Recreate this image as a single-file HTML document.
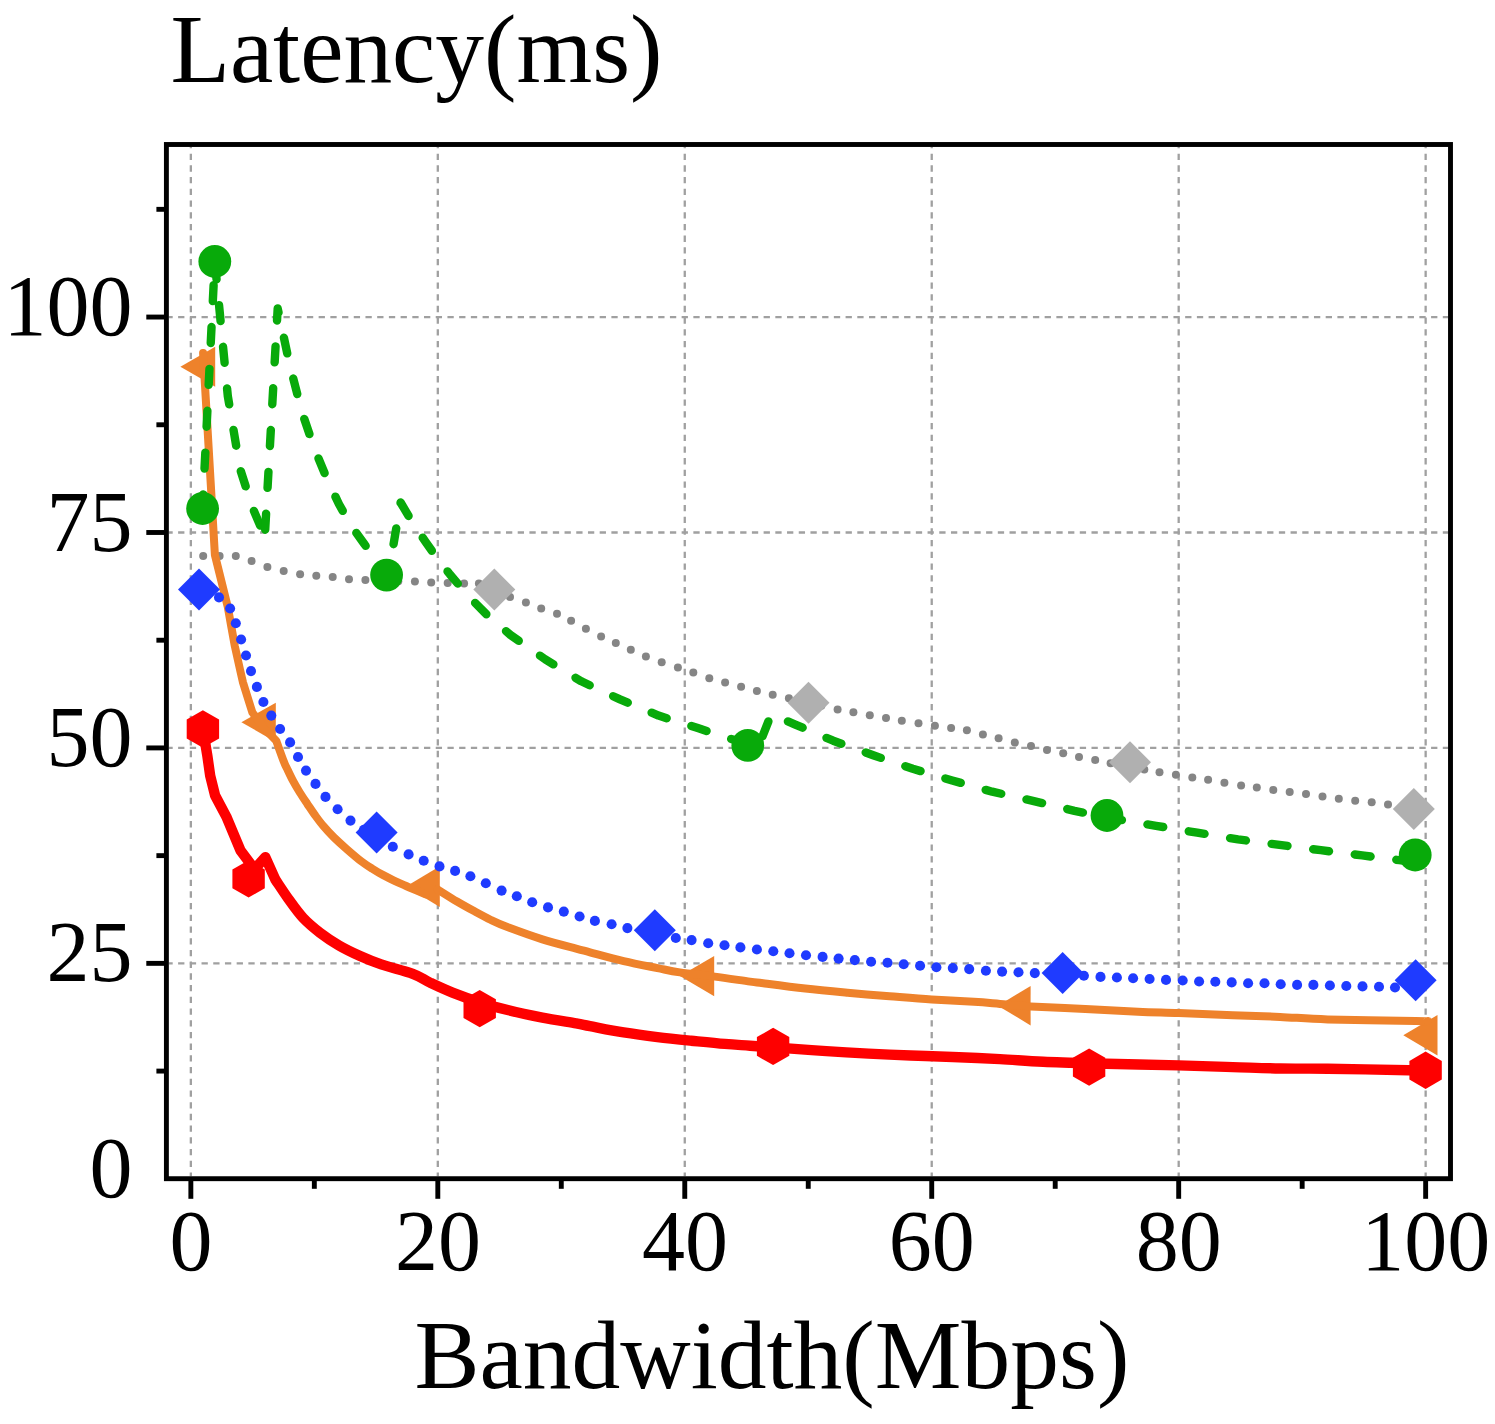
<!DOCTYPE html>
<html><head><meta charset="utf-8"><title>Latency vs Bandwidth</title>
<style>html,body{margin:0;padding:0;background:#fff;}svg{display:block;}text{font-family:"Liberation Serif",serif;fill:#000;}</style>
</head><body>
<svg width="1495" height="1424" viewBox="0 0 1495 1424">
<rect x="0" y="0" width="1495" height="1424" fill="#fff"/>
<g stroke="#a0a0a0" stroke-width="2.3" fill="none" stroke-dasharray="6.3 5.41">
<line x1="190.85" y1="1176.30" x2="190.85" y2="146.90" stroke-dashoffset="2.4"/>
<line x1="437.81" y1="1176.30" x2="437.81" y2="146.90" stroke-dashoffset="2.4"/>
<line x1="684.77" y1="1176.30" x2="684.77" y2="146.90" stroke-dashoffset="2.4"/>
<line x1="931.73" y1="1176.30" x2="931.73" y2="146.90" stroke-dashoffset="2.4"/>
<line x1="1178.69" y1="1176.30" x2="1178.69" y2="146.90" stroke-dashoffset="2.4"/>
<line x1="1425.65" y1="1176.30" x2="1425.65" y2="146.90" stroke-dashoffset="2.4"/>
<line x1="168.80" y1="963.36" x2="1448.10" y2="963.36" stroke-dashoffset="2.4"/>
<line x1="168.80" y1="747.92" x2="1448.10" y2="747.92" stroke-dashoffset="2.4"/>
<line x1="168.80" y1="532.49" x2="1448.10" y2="532.49" stroke-dashoffset="2.4"/>
<line x1="168.80" y1="317.05" x2="1448.10" y2="317.05" stroke-dashoffset="2.4"/>
</g>
<g id="gray">
<g fill="#858585">
<circle cx="203.2" cy="555.9" r="4.00"/>
<circle cx="219.6" cy="555.9" r="4.00"/>
<circle cx="235.8" cy="555.9" r="4.00"/>
<circle cx="251.6" cy="561.1" r="4.00"/>
<circle cx="267.4" cy="567.0" r="4.00"/>
<circle cx="283.7" cy="571.0" r="4.00"/>
<circle cx="300.1" cy="574.2" r="4.00"/>
<circle cx="316.3" cy="575.7" r="4.00"/>
<circle cx="332.7" cy="577.1" r="4.00"/>
<circle cx="349.0" cy="579.2" r="4.00"/>
<circle cx="365.4" cy="580.1" r="4.00"/>
<circle cx="381.8" cy="580.7" r="4.00"/>
<circle cx="398.3" cy="581.2" r="4.00"/>
<circle cx="414.9" cy="581.6" r="4.00"/>
<circle cx="431.2" cy="582.4" r="4.00"/>
<circle cx="447.7" cy="582.9" r="4.00"/>
<circle cx="464.1" cy="583.4" r="4.00"/>
<circle cx="478.9" cy="583.6" r="4.00"/>
<circle cx="494.5" cy="589.5" r="4.00"/>
<circle cx="510.0" cy="596.9" r="4.00"/>
<circle cx="525.9" cy="602.6" r="4.00"/>
<circle cx="541.2" cy="608.5" r="4.00"/>
<circle cx="557.0" cy="613.8" r="4.00"/>
<circle cx="571.1" cy="620.7" r="4.00"/>
<circle cx="585.9" cy="628.7" r="4.00"/>
<circle cx="601.1" cy="636.5" r="4.00"/>
<circle cx="615.8" cy="643.1" r="4.00"/>
<circle cx="630.8" cy="649.8" r="4.00"/>
<circle cx="645.9" cy="656.5" r="4.00"/>
<circle cx="661.7" cy="662.2" r="4.00"/>
<circle cx="677.9" cy="667.5" r="4.00"/>
<circle cx="693.3" cy="672.5" r="4.00"/>
<circle cx="709.3" cy="678.2" r="4.00"/>
<circle cx="725.1" cy="682.6" r="4.00"/>
<circle cx="741.1" cy="686.8" r="4.00"/>
<circle cx="756.9" cy="691.0" r="4.00"/>
<circle cx="772.7" cy="694.8" r="4.00"/>
<circle cx="788.9" cy="698.2" r="4.00"/>
<circle cx="805.1" cy="701.8" r="4.00"/>
<circle cx="821.3" cy="705.8" r="4.00"/>
<circle cx="837.6" cy="709.5" r="4.00"/>
<circle cx="853.4" cy="712.3" r="4.00"/>
<circle cx="869.8" cy="715.2" r="4.00"/>
<circle cx="886.0" cy="718.0" r="4.00"/>
<circle cx="901.8" cy="720.7" r="4.00"/>
<circle cx="918.5" cy="723.2" r="4.00"/>
<circle cx="934.9" cy="725.8" r="4.00"/>
<circle cx="951.1" cy="727.9" r="4.00"/>
<circle cx="966.9" cy="730.2" r="4.00"/>
<circle cx="982.9" cy="734.6" r="4.00"/>
<circle cx="998.6" cy="738.3" r="4.00"/>
<circle cx="1014.8" cy="742.6" r="4.00"/>
<circle cx="1031.0" cy="746.0" r="4.00"/>
<circle cx="1047.0" cy="750.0" r="4.00"/>
<circle cx="1063.2" cy="753.3" r="4.00"/>
<circle cx="1079.0" cy="756.9" r="4.00"/>
<circle cx="1095.2" cy="760.1" r="4.00"/>
<circle cx="1110.6" cy="763.2" r="4.00"/>
<circle cx="1127.4" cy="766.4" r="4.00"/>
<circle cx="1144.3" cy="769.6" r="4.00"/>
<circle cx="1159.5" cy="772.3" r="4.00"/>
<circle cx="1175.9" cy="774.8" r="4.00"/>
<circle cx="1192.3" cy="777.6" r="4.00"/>
<circle cx="1208.1" cy="779.7" r="4.00"/>
<circle cx="1224.4" cy="782.8" r="4.00"/>
<circle cx="1241.1" cy="785.4" r="4.00"/>
<circle cx="1256.8" cy="787.5" r="4.00"/>
<circle cx="1273.3" cy="789.9" r="4.00"/>
<circle cx="1289.7" cy="792.1" r="4.00"/>
<circle cx="1306.0" cy="794.1" r="4.00"/>
<circle cx="1322.5" cy="796.5" r="4.00"/>
<circle cx="1338.8" cy="798.8" r="4.00"/>
<circle cx="1355.2" cy="800.7" r="4.00"/>
<circle cx="1371.7" cy="802.3" r="4.00"/>
<circle cx="1388.0" cy="804.6" r="4.00"/>
<circle cx="1404.3" cy="807.0" r="4.00"/>
</g>
<polygon points="494.3,568.5 515.3,589.5 494.3,610.5 473.3,589.5" fill="#b0b0b0"/>
<polygon points="808.5,681.8 829.5,702.8 808.5,723.8 787.5,702.8" fill="#b0b0b0"/>
<polygon points="1130.0,741.2 1151.0,762.2 1130.0,783.2 1109.0,762.2" fill="#b0b0b0"/>
<polygon points="1413.8,788.0 1434.8,809.0 1413.8,830.0 1392.8,809.0" fill="#b0b0b0"/>
</g>
<g id="orange">
<polygon points="180.4,366.8 215.2,346.8 215.2,386.8" fill="#ee822b"/>
<polygon points="241.4,722.3 275.8,702.7 275.8,741.9" fill="#ee822b"/>
<polygon points="406.0,886.6 439.8,866.3 439.8,906.9" fill="#ee822b"/>
<polygon points="679.9,976.1 714.2,955.9 714.2,996.3" fill="#ee822b"/>
<polygon points="997.9,1005.7 1030.6,986.0 1030.6,1025.4" fill="#ee822b"/>
<polygon points="1403.3,1035.2 1437.5,1015.0 1437.5,1055.4" fill="#ee822b"/>
<path d="M203.1,353.0L214.9,555.0L227.8,607.0L231.5,627.8L234.8,646.0L240.0,669.5L243.0,682.5L248.6,700.5L252.3,712.3L264.8,729.0L276.2,740.7C277.5,744.2 282.0,756.9 283.9,761.8C285.8,766.7 286.1,766.8 287.7,770.0C289.2,773.2 291.2,777.5 293.2,781.2C295.2,785.0 297.5,788.8 299.8,792.5C302.1,796.2 304.7,800.0 307.2,803.7C309.7,807.4 312.1,811.1 314.8,814.9C317.5,818.6 320.3,822.5 323.5,826.2C326.7,830.0 330.1,833.6 333.9,837.4C337.7,841.1 341.7,844.7 346.3,848.7C350.9,852.7 357.1,858.1 361.4,861.4C365.7,864.7 368.5,866.4 372.1,868.6C375.7,870.9 379.2,873.0 382.8,874.9C386.4,876.8 389.9,878.6 393.5,880.3C397.1,882.0 401.4,883.9 404.2,885.1C407.0,886.4 406.6,886.2 410.1,887.8C413.7,889.3 422.9,893.3 425.5,894.4" fill="none" stroke="#ee822b" stroke-width="8.0" stroke-linejoin="round" stroke-linecap="round"/>
<path d="M437.8,889.5C438.1,889.7 436.6,888.8 439.8,890.8C443.0,892.8 451.1,898.0 457.0,901.5C462.9,905.0 469.3,908.5 475.0,911.6C480.7,914.7 485.4,917.3 491.0,920.0C496.6,922.7 500.1,924.4 508.7,927.6C517.3,930.8 531.2,935.9 542.4,939.4C553.6,942.9 568.2,946.5 576.1,948.6C584.0,950.8 582.1,950.2 590.0,952.3C597.9,954.4 612.5,958.5 623.7,961.1C634.9,963.7 648.0,966.2 657.4,968.1C666.8,970.0 670.3,971.0 679.9,972.4C689.5,973.8 703.0,975.1 714.7,976.6C726.4,978.1 741.9,980.5 750.0,981.6C758.1,982.7 754.0,982.1 763.2,983.2C772.4,984.4 791.2,986.9 805.3,988.5C819.3,990.1 833.5,991.4 847.5,992.7C861.5,994.0 875.6,995.2 889.6,996.3C903.6,997.4 917.7,998.6 931.7,999.5C945.8,1000.4 962.5,1001.1 973.9,1001.8C985.3,1002.5 990.5,1003.1 1000.0,1003.9C1009.5,1004.7 1016.4,1005.6 1030.6,1006.4C1044.8,1007.2 1067.4,1008.0 1085.3,1008.9C1103.2,1009.8 1122.4,1011.0 1138.0,1011.7C1153.6,1012.4 1162.9,1012.5 1178.7,1013.1C1194.5,1013.7 1215.9,1014.6 1232.8,1015.2C1249.7,1015.8 1264.2,1016.2 1280.0,1016.9C1295.8,1017.6 1305.2,1018.7 1327.8,1019.4C1350.4,1020.1 1398.9,1020.8 1415.6,1021.1C1432.3,1021.4 1425.9,1021.1 1427.9,1021.1" fill="none" stroke="#ee822b" stroke-width="8.0" stroke-linejoin="round" stroke-linecap="round"/>
</g>
<g id="green">
<polyline points="202.6,507.5 214.8,261.0" fill="none" stroke="#08aa0a" stroke-width="8.4" stroke-linejoin="round" stroke-linecap="round" stroke-dasharray="16.0 25.90" stroke-dashoffset="2.92"/>
<polyline points="214.8,261.0 227.8,396.0 240.1,469.0 252.4,507.4 264.8,536.5" fill="none" stroke="#08aa0a" stroke-width="8.4" stroke-linejoin="round" stroke-linecap="round" stroke-dasharray="16.0 25.90" stroke-dashoffset="39.49"/>
<polyline points="264.8,536.5 277.7,308.5 289.5,364.0 301.9,412.0 314.2,448.0 326.6,478.0 338.9,504.0 351.2,525.8 363.6,543.0 375.9,560.0 388.3,575.4" fill="none" stroke="#08aa0a" stroke-width="8.4" stroke-linejoin="round" stroke-linecap="round" stroke-dasharray="16.0 25.90" stroke-dashoffset="35.08"/>
<polyline points="388.3,575.4 400.6,502.5 413.0,523.5 425.4,541.6 437.7,559.0 450.0,574.5 462.4,589.0 474.8,602.6 487.1,615.0 510.5,635.0 545.3,659.4 581.3,681.3 620.0,699.4 658.5,715.6 697.8,728.0 730.0,738.7 746.5,743.3 758.9,745.6" fill="none" stroke="#08aa0a" stroke-width="8.4" stroke-linejoin="round" stroke-linecap="round" stroke-dasharray="16.0 25.90" stroke-dashoffset="10.23"/>
<polyline points="758.9,745.6 771.2,714.2 795.3,724.6 833.2,740.7 873.2,755.3 912.8,768.8 952.2,780.5 992.2,791.7 1033.9,801.1 1074.5,810.8 1107.0,817.5" fill="none" stroke="#08aa0a" stroke-width="8.4" stroke-linejoin="round" stroke-linecap="round" stroke-dasharray="16.0 25.90" stroke-dashoffset="31.85"/>
<polyline points="1107.0,817.5 1156.1,825.8 1197.2,832.7 1238.0,839.4 1279.5,844.9 1320.8,850.2 1362.2,855.4 1399.3,860.2 1415.0,862.3" fill="none" stroke="#08aa0a" stroke-width="8.4" stroke-linejoin="round" stroke-linecap="round" stroke-dasharray="16.0 25.90" stroke-dashoffset="0.88"/>
</g>
<g id="greenmarks">
<circle cx="214.8" cy="261.5" r="16.4" fill="#08aa0a"/>
<circle cx="202.6" cy="508.5" r="16.4" fill="#08aa0a"/>
<circle cx="386.6" cy="575.1" r="16.4" fill="#08aa0a"/>
<circle cx="747.8" cy="745.4" r="16.4" fill="#08aa0a"/>
<circle cx="1107.0" cy="815.5" r="16.4" fill="#08aa0a"/>
<circle cx="1415.2" cy="855.0" r="16.4" fill="#08aa0a"/>
</g>
<g id="blue">
<g fill="#1f3bff">
<circle cx="204.5" cy="591.5" r="5.05"/>
<circle cx="219.0" cy="597.4" r="5.05"/>
<circle cx="230.1" cy="608.5" r="5.05"/>
<circle cx="235.8" cy="623.3" r="5.05"/>
<circle cx="241.1" cy="639.5" r="5.05"/>
<circle cx="246.0" cy="655.5" r="5.05"/>
<circle cx="251.0" cy="671.1" r="5.05"/>
<circle cx="256.9" cy="686.9" r="5.05"/>
<circle cx="263.4" cy="702.0" r="5.05"/>
<circle cx="271.3" cy="715.6" r="5.05"/>
<circle cx="280.1" cy="729.0" r="5.05"/>
<circle cx="290.1" cy="742.4" r="5.05"/>
<circle cx="298.0" cy="757.0" r="5.05"/>
<circle cx="306.0" cy="770.6" r="5.05"/>
<circle cx="315.5" cy="783.9" r="5.05"/>
<circle cx="325.5" cy="796.9" r="5.05"/>
<circle cx="337.6" cy="809.2" r="5.05"/>
<circle cx="350.5" cy="820.6" r="5.05"/>
<circle cx="363.9" cy="829.9" r="5.05"/>
<circle cx="379.0" cy="839.5" r="5.05"/>
<circle cx="392.8" cy="846.8" r="5.05"/>
<circle cx="408.6" cy="854.4" r="5.05"/>
<circle cx="423.7" cy="860.7" r="5.05"/>
<circle cx="439.5" cy="866.4" r="5.05"/>
<circle cx="455.1" cy="870.9" r="5.05"/>
<circle cx="470.4" cy="876.3" r="5.05"/>
<circle cx="485.8" cy="883.2" r="5.05"/>
<circle cx="501.6" cy="890.6" r="5.05"/>
<circle cx="516.8" cy="896.3" r="5.05"/>
<circle cx="532.2" cy="902.2" r="5.05"/>
<circle cx="548.0" cy="907.4" r="5.05"/>
<circle cx="563.8" cy="911.6" r="5.05"/>
<circle cx="579.6" cy="916.5" r="5.05"/>
<circle cx="594.9" cy="920.9" r="5.05"/>
<circle cx="611.6" cy="924.3" r="5.05"/>
<circle cx="627.4" cy="928.1" r="5.05"/>
<circle cx="643.5" cy="931.4" r="5.05"/>
<circle cx="659.7" cy="934.7" r="5.05"/>
<circle cx="675.8" cy="938.0" r="5.05"/>
<circle cx="691.6" cy="940.1" r="5.05"/>
<circle cx="708.2" cy="943.2" r="5.05"/>
<circle cx="724.5" cy="945.3" r="5.05"/>
<circle cx="740.4" cy="947.4" r="5.05"/>
<circle cx="756.9" cy="949.5" r="5.05"/>
<circle cx="773.3" cy="951.2" r="5.05"/>
<circle cx="789.5" cy="953.3" r="5.05"/>
<circle cx="806.0" cy="955.2" r="5.05"/>
<circle cx="822.6" cy="956.9" r="5.05"/>
<circle cx="838.6" cy="958.6" r="5.05"/>
<circle cx="854.8" cy="960.1" r="5.05"/>
<circle cx="871.1" cy="961.8" r="5.05"/>
<circle cx="887.5" cy="962.8" r="5.05"/>
<circle cx="903.7" cy="964.3" r="5.05"/>
<circle cx="920.1" cy="965.8" r="5.05"/>
<circle cx="936.4" cy="967.2" r="5.05"/>
<circle cx="952.8" cy="968.1" r="5.05"/>
<circle cx="969.2" cy="969.1" r="5.05"/>
<circle cx="985.9" cy="970.8" r="5.05"/>
<circle cx="1002.1" cy="971.6" r="5.05"/>
<circle cx="1018.5" cy="972.3" r="5.05"/>
<circle cx="1034.8" cy="973.1" r="5.05"/>
<circle cx="1051.2" cy="974.0" r="5.05"/>
<circle cx="1067.5" cy="975.0" r="5.05"/>
<circle cx="1083.9" cy="975.8" r="5.05"/>
<circle cx="1100.5" cy="976.9" r="5.05"/>
<circle cx="1116.9" cy="977.5" r="5.05"/>
<circle cx="1133.1" cy="978.2" r="5.05"/>
<circle cx="1149.6" cy="979.0" r="5.05"/>
<circle cx="1166.0" cy="979.9" r="5.05"/>
<circle cx="1182.7" cy="980.5" r="5.05"/>
<circle cx="1199.1" cy="981.5" r="5.05"/>
<circle cx="1215.3" cy="981.7" r="5.05"/>
<circle cx="1231.7" cy="982.4" r="5.05"/>
<circle cx="1248.1" cy="983.3" r="5.05"/>
<circle cx="1264.5" cy="983.3" r="5.05"/>
<circle cx="1280.7" cy="984.2" r="5.05"/>
<circle cx="1297.1" cy="984.9" r="5.05"/>
<circle cx="1313.4" cy="984.9" r="5.05"/>
<circle cx="1329.9" cy="985.5" r="5.05"/>
<circle cx="1346.3" cy="986.0" r="5.05"/>
<circle cx="1362.5" cy="986.4" r="5.05"/>
<circle cx="1379.0" cy="986.8" r="5.05"/>
<circle cx="1395.0" cy="987.5" r="5.05"/>
</g>
<polygon points="199.0,568.6 220.0,589.6 199.0,610.6 178.0,589.6" fill="#1f3bff"/>
<polygon points="376.6,811.5 397.6,832.5 376.6,853.5 355.6,832.5" fill="#1f3bff"/>
<polygon points="654.8,909.2 675.8,930.2 654.8,951.2 633.8,930.2" fill="#1f3bff"/>
<polygon points="1062.6,952.1 1083.6,973.1 1062.6,994.1 1041.6,973.1" fill="#1f3bff"/>
<polygon points="1415.6,959.3 1436.6,980.3 1415.6,1001.3 1394.6,980.3" fill="#1f3bff"/>
</g>
<g id="red">
<path d="M202.9,729.0L207.4,756.2L210.2,775.8L215.1,795.5L226.3,816.6L233.4,833.4L240.4,850.3L254.5,869.2L265.3,857.2L275.5,879.8C277.7,883.0 283.9,892.6 288.5,899.0C293.1,905.4 297.9,912.4 303.2,918.0C308.5,923.6 314.1,928.2 320.1,932.8C326.1,937.4 332.3,941.5 339.0,945.4C345.7,949.3 353.1,952.8 360.1,956.0C367.1,959.2 372.4,961.4 381.2,964.4C390.0,967.4 404.7,970.9 412.8,973.9C420.9,976.9 423.4,979.5 430.0,982.6C436.6,985.7 444.2,989.3 452.5,992.6C460.8,995.9 470.1,999.2 479.5,1002.2C488.9,1005.2 498.2,1007.7 508.7,1010.3C519.2,1012.9 531.2,1015.4 542.4,1017.6C553.6,1019.8 568.2,1022.0 576.1,1023.4C584.0,1024.8 582.1,1024.6 590.0,1026.1C597.9,1027.6 612.5,1030.6 623.7,1032.4C634.9,1034.2 646.2,1035.7 657.4,1037.1C668.6,1038.5 679.9,1039.6 691.1,1040.7C702.3,1041.8 715.0,1043.1 724.8,1043.9C734.6,1044.7 740.1,1045.0 750.0,1045.7C759.9,1046.4 771.6,1047.2 784.3,1048.1C797.0,1049.0 812.4,1050.2 826.4,1051.1C840.4,1052.0 854.5,1052.9 868.5,1053.6C882.5,1054.3 896.7,1054.9 910.7,1055.5C924.8,1056.1 937.9,1056.4 952.8,1057.0C967.7,1057.6 984.9,1058.3 1000.0,1059.1C1015.1,1059.9 1025.5,1061.0 1043.2,1061.8C1060.9,1062.6 1083.8,1063.1 1106.4,1063.7C1129.0,1064.3 1157.6,1064.8 1178.7,1065.4C1199.8,1066.0 1215.9,1066.6 1232.8,1067.1C1249.7,1067.6 1264.2,1068.2 1280.0,1068.5C1295.8,1068.8 1306.4,1068.4 1327.8,1068.7C1349.2,1069.0 1392.2,1070.0 1408.5,1070.3C1424.8,1070.6 1422.8,1070.3 1425.6,1070.3" fill="none" stroke="#fe0000" stroke-width="10.4" stroke-linejoin="round" stroke-linecap="round"/>
<polygon points="202.9,710.3 186.7,719.6 186.7,738.4 202.9,747.7 219.1,738.4 219.1,719.6" fill="#fe0000"/>
<polygon points="248.6,860.2 232.4,869.5 232.4,888.2 248.6,897.6 264.8,888.2 264.8,869.5" fill="#fe0000"/>
<polygon points="479.7,989.9 463.5,999.2 463.5,1018.0 479.7,1027.3 495.9,1018.0 495.9,999.2" fill="#fe0000"/>
<polygon points="773.1,1027.7 756.9,1037.1 756.9,1055.8 773.1,1065.1 789.3,1055.8 789.3,1037.1" fill="#fe0000"/>
<polygon points="1089.1,1048.4 1072.9,1057.8 1072.9,1076.4 1089.1,1085.8 1105.3,1076.4 1105.3,1057.8" fill="#fe0000"/>
<polygon points="1425.6,1051.6 1409.4,1061.0 1409.4,1079.6 1425.6,1089.0 1441.8,1079.6 1441.8,1061.0" fill="#fe0000"/>
</g>
<rect x="166.40" y="144.50" width="1284.10" height="1034.20" fill="none" stroke="#000" stroke-width="4.9"/>
<g stroke="#000" stroke-width="4.9" fill="none">
<line x1="190.85" y1="1178.70" x2="190.85" y2="1198.8"/>
<line x1="437.81" y1="1178.70" x2="437.81" y2="1198.8"/>
<line x1="684.77" y1="1178.70" x2="684.77" y2="1198.8"/>
<line x1="931.73" y1="1178.70" x2="931.73" y2="1198.8"/>
<line x1="1178.69" y1="1178.70" x2="1178.69" y2="1198.8"/>
<line x1="1425.65" y1="1178.70" x2="1425.65" y2="1198.8"/>
<line x1="314.33" y1="1178.70" x2="314.33" y2="1188.8"/>
<line x1="561.29" y1="1178.70" x2="561.29" y2="1188.8"/>
<line x1="808.25" y1="1178.70" x2="808.25" y2="1188.8"/>
<line x1="1055.21" y1="1178.70" x2="1055.21" y2="1188.8"/>
<line x1="1302.17" y1="1178.70" x2="1302.17" y2="1188.8"/>
<line x1="146.3" y1="963.36" x2="166.40" y2="963.36"/>
<line x1="146.3" y1="747.92" x2="166.40" y2="747.92"/>
<line x1="146.3" y1="532.49" x2="166.40" y2="532.49"/>
<line x1="146.3" y1="317.05" x2="166.40" y2="317.05"/>
<line x1="156.4" y1="1071.08" x2="166.40" y2="1071.08"/>
<line x1="156.4" y1="855.64" x2="166.40" y2="855.64"/>
<line x1="156.4" y1="640.21" x2="166.40" y2="640.21"/>
<line x1="156.4" y1="424.77" x2="166.40" y2="424.77"/>
<line x1="156.4" y1="209.33" x2="166.40" y2="209.33"/>
</g>
<g font-size="86px">
<text x="190.9" y="1270.2" text-anchor="middle">0</text>
<text x="437.9" y="1270.2" text-anchor="middle">20</text>
<text x="684.9" y="1270.2" text-anchor="middle">40</text>
<text x="931.8" y="1270.2" text-anchor="middle">60</text>
<text x="1178.8" y="1270.2" text-anchor="middle">80</text>
<text x="1425.8" y="1270.2" text-anchor="middle">100</text>
<text x="132.4" y="1196.8" text-anchor="end">0</text>
<text x="132.4" y="981.4" text-anchor="end">25</text>
<text x="132.4" y="765.9" text-anchor="end">50</text>
<text x="132.4" y="550.5" text-anchor="end">75</text>
<text x="132.4" y="335.0" text-anchor="end">100</text>
</g>
<text x="170.4" y="81.9" font-size="97.4px">Latency(ms)</text>
<text x="414.45" y="1388.0" font-size="97.5px">Bandwidth(Mbps)</text>
</svg></body></html>
